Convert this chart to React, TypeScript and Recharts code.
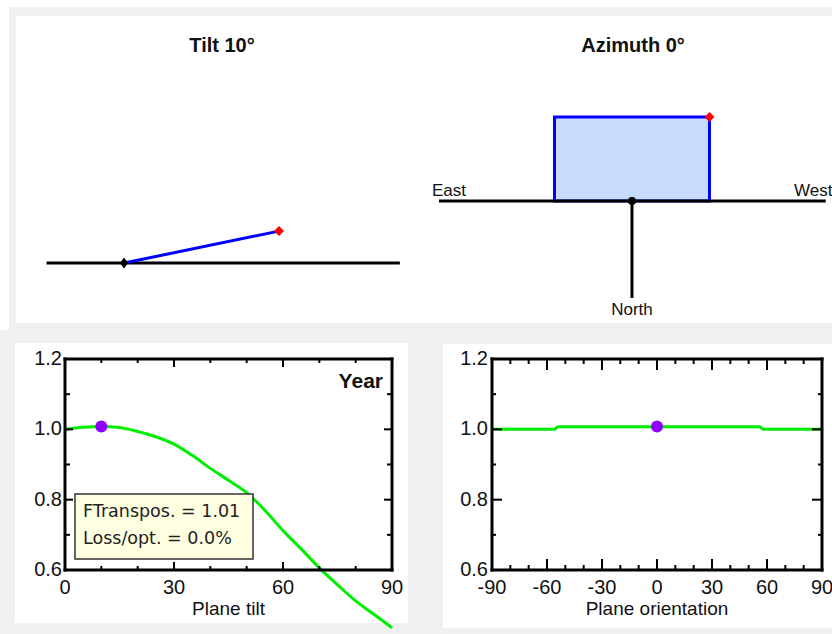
import React from 'react';
import { ComposedChart, Line, XAxis, YAxis, Scatter, ReferenceArea } from 'recharts';

// ---------- data ----------
const tiltAngles = [0, 5, 10, 15, 20, 25, 30, 35, 40, 45, 50, 55, 60, 65, 70, 75, 80, 85, 90];
const tiltFactor = [1.0, 1.006, 1.008, 1.005, 0.994, 0.979, 0.958, 0.926, 0.889, 0.855, 0.82, 0.77, 0.712, 0.66, 0.606, 0.558, 0.512, 0.474, 0.436];
const orientAngles = [-90, -56, -54, 56, 58, 90];
const orientFactor = [1.0, 1.0, 1.007, 1.007, 1.0, 1.0];
const tiltOptimum = [{ x: 10, y: 1.008 }];
const orientOptimum = [{ x: 0, y: 1.008 }];
const tiltTicks = [0, 10, 20, 30, 40, 50, 60, 70, 80, 90];
const orientTicks = [-90, -80, -70, -60, -50, -40, -30, -20, -10, 0, 10, 20, 30, 40, 50, 60, 70, 80, 90];
const factorTicks = [0.6, 0.7, 0.8, 0.9, 1.0, 1.1, 1.2];

// diagram geometry (diagram units)
const tiltGround = [{ x: -0.5, y: 0 }, { x: 1.78, y: 0 }];
const tiltPanel = [{ x: 0, y: 0 }, { x: 1, y: 0.206 }];
const tiltPivot = [{ x: 0, y: 0 }];
const tiltTop = [{ x: 1, y: 0.206 }];
const azGround = [{ x: -2.49, y: 0 }, { x: 2.5, y: 0 }];
const azNorth = [{ x: 0, y: 0 }, { x: 0, y: -1.25 }];
const azPanel = [{ x: -1, y: 1.084 }, { x: 1, y: 1.084 }];
const azTop = [{ x: 1, y: 1.084 }];
const azPivot = [{ x: 0, y: 0 }];

const tiltRows = tiltAngles.map((a, i) => ({ x: a, y: tiltFactor[i] }));
const orientRows = orientAngles.map((a, i) => ({ x: a, y: orientFactor[i] }));

const GREEN = '#00ee00';
const PURPLE = '#8f00ff';
const TICK_FONT = '"Liberation Sans", Arial, sans-serif';

function makeXTick(dir: number, majLen: number, minLen: number, showLabel: boolean) {
  return (p: any) => {
    const { x, y, payload } = p;
    const v = payload.value as number;
    const major = Math.round(v) % 30 === 0;
    const len = major ? majLen : minLen;
    return (
      <g>
        <line x1={x} y1={y} x2={x} y2={y + dir * len} stroke="#000" strokeWidth={2} />
        {showLabel && major && (
          <text x={x} y={y + 24} textAnchor="middle" fontSize={20} fontFamily={TICK_FONT} fill="#111">
            {String(v)}
          </text>
        )}
      </g>
    );
  };
}

function makeYTick(dir: number, majLen: number, minLen: number, showLabel: boolean, gap: number) {
  return (p: any) => {
    const { x, y, payload } = p;
    const v = payload.value as number;
    const major = Math.round(v * 10) % 2 === 0;
    const len = major ? majLen : minLen;
    return (
      <g>
        <line x1={x} y1={y} x2={x + dir * len} y2={y} stroke="#000" strokeWidth={2} />
        {showLabel && major && (
          <text x={x - gap} y={y + 6} textAnchor="end" fontSize={20} fontFamily={TICK_FONT} fill="#111">
            {v.toFixed(1)}
          </text>
        )}
      </g>
    );
  };
}

const frameLine = { stroke: '#000', strokeWidth: 3, strokeLinecap: 'square' as const };

const diamond = (color: string, w: number, h: number) => (p: any) => {
  const { cx, cy } = p;
  return (
    <polygon
      points={`${cx},${cy - h / 2} ${cx + w / 2},${cy} ${cx},${cy + h / 2} ${cx - w / 2},${cy}`}
      fill={color}
    />
  );
};
const circle = (color: string, r: number) => (p: any) => <circle cx={p.cx} cy={p.cy} r={r} fill={color} />;

function FactorChart(props: {
  rows: { x: number; y: number }[];
  opt: { x: number; y: number }[];
  xDomain: [number, number];
  xTicks: number[];
  label: string;
  width: number;
  yWidth: number;
  right: number;
  xMaj: number;
  xMin: number;
  yMaj: number;
  yMin: number;
  gap: number;
}) {
  const { rows, opt, xDomain, xTicks, label, width, yWidth, right, xMaj, xMin, yMaj, yMin, gap } = props;
  return (
    <ComposedChart width={width} height={304} margin={{ top: 29, right, bottom: 14, left: 0 }}>
      <XAxis
        xAxisId="b"
        type="number"
        dataKey="x"
        domain={xDomain}
        ticks={xTicks}
        interval={0}
        allowDataOverflow
        height={50}
        tickSize={0}
        tickMargin={0}
        tickLine={false}
        axisLine={frameLine}
        tick={makeXTick(-1, xMaj, xMin, true)}
        label={{
          value: label,
          position: 'insideBottom',
          offset: 5,
          fontSize: 19,
          fontFamily: TICK_FONT,
          fill: '#111',
        }}
      />
      <XAxis
        xAxisId="t"
        orientation="top"
        mirror
        type="number"
        dataKey="x"
        domain={xDomain}
        ticks={xTicks}
        interval={0}
        allowDataOverflow
        height={2}
        tickSize={0}
        tickMargin={0}
        tickLine={false}
        axisLine={frameLine}
        tick={makeXTick(1, xMaj, xMin, false)}
      />
      <YAxis
        yAxisId="l"
        type="number"
        domain={[0.6, 1.2]}
        ticks={factorTicks}
        interval={0}
        allowDataOverflow
        width={yWidth}
        tickSize={0}
        tickMargin={0}
        tickLine={false}
        axisLine={frameLine}
        tick={makeYTick(1, yMaj, yMin, true, gap)}
      />
      <YAxis
        yAxisId="r"
        orientation="right"
        mirror
        type="number"
        domain={[0.6, 1.2]}
        ticks={factorTicks}
        interval={0}
        allowDataOverflow
        width={2}
        tickSize={0}
        tickMargin={0}
        tickLine={false}
        axisLine={frameLine}
        tick={makeYTick(-1, yMaj, yMin, false, gap)}
      />
      {/* invisible copy so the top / right frame axes are bound to data */}
      <Line
        xAxisId="t"
        yAxisId="r"
        data={rows}
        dataKey="y"
        stroke="none"
        dot={false}
        activeDot={false}
        isAnimationActive={false}
      />
      <Line
        xAxisId="b"
        yAxisId="l"
        data={rows}
        dataKey="y"
        type="monotone"
        stroke={GREEN}
        strokeWidth={3}
        dot={false}
        isAnimationActive={false}
      />
      <Scatter
        xAxisId="b"
        yAxisId="l"
        data={opt}
        dataKey="y"
        shape={circle(PURPLE, 6)}
        isAnimationActive={false}
      />
    </ComposedChart>
  );
}

export default function App() {
  return (
    <div style={{ position: 'absolute', left: 0, top: 0, width: 832, height: 634, background: '#fff', overflow: 'hidden' }}>
      <style>{'.recharts-line, .recharts-line * { clip-path: none !important; }'}</style>
      {/* backgrounds */}
      <div style={{ position: 'absolute', left: 9, top: 7, width: 823, height: 323, background: '#f0f0f0' }} />
      <div style={{ position: 'absolute', left: 16, top: 16, width: 816, height: 307, background: '#fff' }} />
      <div style={{ position: 'absolute', left: 0, top: 330, width: 832, height: 304, background: '#f0f0f0' }} />
      <div style={{ position: 'absolute', left: 15, top: 343, width: 393, height: 280, background: '#fff' }} />
      <div style={{ position: 'absolute', left: 443, top: 344, width: 389, height: 284, background: '#fff' }} />

      {/* tilt diagram */}
      <div style={{ position: 'absolute', left: 16, top: 16 }}>
        <ComposedChart width={400} height={307} margin={{ top: 0, right: 0, bottom: 0, left: 0 }}>
          <XAxis type="number" dataKey="x" domain={[-0.697, 1.884]} allowDataOverflow hide />
          <YAxis type="number" domain={[-0.387, 1.594]} allowDataOverflow hide />
          <Line data={tiltGround} dataKey="y" stroke="#000" strokeWidth={3} dot={false} isAnimationActive={false} />
          <Line data={tiltPanel} dataKey="y" stroke="#0000ff" strokeWidth={3} dot={false} isAnimationActive={false} />
          <Scatter data={tiltPivot} dataKey="y" shape={diamond('#000', 8, 11)} isAnimationActive={false} />
          <Scatter data={tiltTop} dataKey="y" shape={diamond('#ff0000', 10, 10)} isAnimationActive={false} />
        </ComposedChart>
      </div>

      {/* azimuth diagram */}
      <div style={{ position: 'absolute', left: 416, top: 16 }}>
        <ComposedChart width={416} height={307} margin={{ top: 0, right: 0, bottom: 0, left: 0 }}>
          <XAxis type="number" dataKey="x" domain={[-2.787, 2.581]} allowDataOverflow hide />
          <YAxis type="number" domain={[-1.574, 2.387]} allowDataOverflow hide />
          <Line data={azGround} dataKey="y" stroke="#000" strokeWidth={3} dot={false} isAnimationActive={false} />
          <ReferenceArea
            x1={azPanel[0].x}
            x2={azPanel[1].x}
            y1={0}
            y2={azPanel[0].y}
            fill="#c6dcfa"
            fillOpacity={1}
            stroke="#0000ff"
            strokeWidth={3}
          />
          <Line data={azNorth} dataKey="y" stroke="#000" strokeWidth={3} dot={false} isAnimationActive={false} />
          <Scatter data={azPivot} dataKey="y" shape={circle('#000', 4)} isAnimationActive={false} />
          <Scatter data={azTop} dataKey="y" shape={diamond('#ff0000', 10, 10)} isAnimationActive={false} />
        </ComposedChart>
      </div>

      {/* factor charts */}
      <div style={{ position: 'absolute', left: 0, top: 330 }}>
        <FactorChart
          rows={tiltRows}
          opt={tiltOptimum}
          xDomain={[0, 90]}
          xTicks={tiltTicks}
          label="Plane tilt"
          width={420}
          yWidth={65}
          right={28}
          xMaj={8}
          xMin={4}
          yMaj={8}
          yMin={5}
          gap={3}
        />
      </div>
      <div style={{ position: 'absolute', left: 410, top: 330 }}>
        <FactorChart
          rows={orientRows}
          opt={orientOptimum}
          xDomain={[-90, 90]}
          xTicks={orientTicks}
          label="Plane orientation"
          width={422}
          yWidth={82}
          right={10}
          xMaj={11}
          xMin={5}
          yMaj={10}
          yMin={4}
          gap={4}
        />
      </div>

      {/* text overlay */}
      <svg width={832} height={634} style={{ position: 'absolute', left: 0, top: 0, pointerEvents: 'none' }}>
        <g fontFamily={TICK_FONT} fill="#111">
          <text x={222} y={52} textAnchor="middle" fontSize={20} fontWeight="bold">Tilt 10°</text>
          <text x={633} y={52} textAnchor="middle" fontSize={20} fontWeight="bold">Azimuth 0°</text>
          <text x={432} y={196} fontSize={17}>East</text>
          <text x={794} y={196} fontSize={17}>West</text>
          <text x={632} y={315} textAnchor="middle" fontSize={17}>North</text>
          <text x={383} y={388} textAnchor="end" fontSize={21} fontWeight="bold">Year</text>
        </g>
        <rect x={75} y={494} width={178} height={65} fill="#ffffe1" stroke="#333" strokeWidth={1.5} />
        <g fontFamily='"DejaVu Sans", Verdana, sans-serif' fontSize={17.5} fill="#222">
          <text x={83} y={517}>FTranspos. = 1.01</text>
          <text x={83} y={544}>Loss/opt. = 0.0%</text>
        </g>
      </svg>
    </div>
  );
}
